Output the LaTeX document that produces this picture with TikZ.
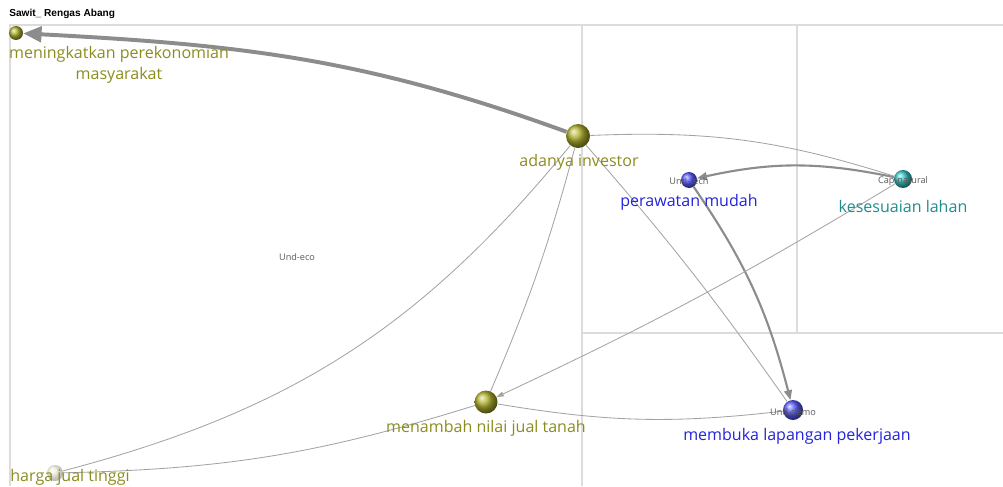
\documentclass[tikz,border=0pt]{standalone}
\usepackage{fontspec}
\setmainfont{Open Sans}
\setsansfont{Liberation Sans}
\usetikzlibrary{arrows.meta}
\definecolor{olivetxt}{HTML}{8C8C1E}
\definecolor{bluetxt}{HTML}{2323DC}
\definecolor{tealtxt}{HTML}{218C8C}
\definecolor{region}{HTML}{DCDCDC}
\definecolor{linkgray}{HTML}{8C8C8C}

\begin{document}
\begin{tikzpicture}[x=0.025cm, y=0.025cm,
	ball/.style={circle, inner sep=0pt, shading=ball},
	eco/.style={ball, ball color=olivetxt!75!yellow!90!white},
	tech/.style={ball, ball color=blue!65!white},
	natural/.style={ball, ball color=teal!55!cyan!80!white},
	lbl/.style={font=\fontsize{11.4}{14.5}\selectfont, align=center},
	tag/.style={font=\fontsize{6.5}{7}\selectfont, text=black!65},
	link/.style={draw=linkgray!80, line width=0.6pt},
	strong/.style={draw=linkgray, line width=2.8pt, -{Triangle[length=13pt,width=11pt]}},
	medium/.style={draw=linkgray, line width=1.5pt, -{Triangle[length=7pt,width=5.5pt]}}]
	\useasboundingbox (0,0) rectangle (1003,-486);
	% region borders
	\draw[region, line width=0.75pt] (10,-486) -- (10,-25) -- (1003,-25);
	\draw[region, line width=0.75pt] (582,-25) -- (582,-486);
	\draw[region, line width=0.75pt] (797,-25) -- (797,-333);
	\draw[region, line width=0.75pt] (582,-333) -- (1003,-333);
	\node[font=\sffamily\bfseries\fontsize{7.2}{8}\selectfont, anchor=west, inner sep=0pt] at (9,-14) (title) {Sawit\_ Rengas Abang};
	\node[tag] at (297,-257) (undeco) {Und-eco};

	\node[eco, minimum size=0.35cm] at (16,-33) (mening) {};
	\node[eco, minimum size=0.6cm] at (578,-136) (investor) {};
	\node[tech, minimum size=0.4cm] at (689,-180) (perawatan) {};
	\node[natural, minimum size=0.45cm] at (903,-179) (kesesuaian) {};
	\node[eco, minimum size=0.575cm] at (486,-402) (menambah) {};
	\node[tech, minimum size=0.5cm] at (793,-410) (membuka) {};
	\node[ball, ball color=olivetxt!30!white, opacity=0.45, minimum size=0.4cm] at (55,-473) (harga) {};

	\draw[strong] (investor) to[out=160, in=-3] (mening);
	\draw[medium] (kesesuaian) to[bend right=12] (perawatan);
	\draw[medium] (perawatan) to[bend left=10] (membuka);
	\draw[link] (investor) to[bend left=10] (kesesuaian);
	\draw[link] (investor) to[bend left=3] (membuka);
	\draw[link] (investor) to[bend left=18] (harga);
	\draw[link] (investor) to[bend left=4] (menambah);
	\draw[link, -{Triangle[length=5pt,width=3.5pt]}] (kesesuaian) to[bend left=3] (menambah);
	\draw[link] (menambah) to[bend right=8] (membuka);
	\draw[link] (harga) to[bend right=8] (menambah);

	\node[lbl, text=olivetxt] at (119,-65) (meninglbl) {meningkatkan perekonomian\\masyarakat};
	\node[lbl, text=olivetxt] at (579,-162) (investorlbl) {adanya investor};
	\node[tag] at (689,-181) (perawatantag) {Und-tech};
	\node[lbl, text=bluetxt] at (689,-202) (perawatanlbl) {perawatan mudah};
	\node[tag] at (903,-181) (kesesuaiantag) {Cap-natural};
	\node[lbl, text=tealtxt] at (903,-206) (kesesuaianlbl) {kesesuaian lahan};
	\node[lbl, text=olivetxt] at (486,-428) (menambahlbl) {menambah nilai jual tanah};
	\node[tag] at (793,-412) (membukatag) {Und-demo};
	\node[lbl, text=bluetxt] at (797,-436) (membukalbl) {membuka lapangan pekerjaan};
	\node[lbl, text=olivetxt] at (70,-477) (hargalbl) {harga jual tinggi};
\end{tikzpicture}
\end{document}
